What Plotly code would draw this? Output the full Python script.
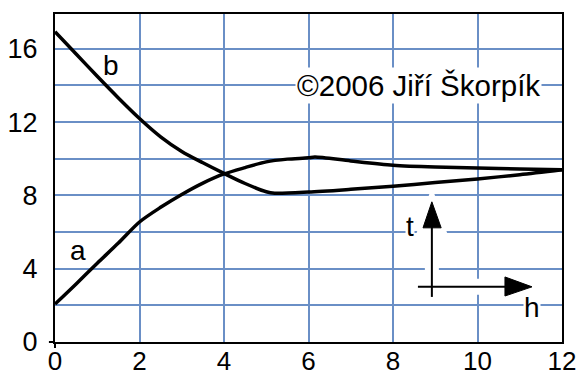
import plotly.graph_objects as go

# ---- data ----
a_x = [0, 0.5, 1, 1.5, 2, 2.5, 3, 3.5, 4, 4.5, 5, 5.5, 6, 6.15, 7, 8, 9, 10, 11, 12]
a_y = [2.07, 3.17, 4.3, 5.4, 6.55, 7.35, 8.05, 8.67, 9.17, 9.52, 9.83, 9.98, 10.05, 10.1, 9.88, 9.65, 9.55, 9.5, 9.44, 9.4]

b_x = [0, 0.5, 1, 1.5, 2, 2.5, 3, 3.5, 4, 4.5, 5, 5.2, 6, 7, 8, 9, 10, 11, 12]
b_y = [16.93, 15.72, 14.5, 13.32, 12.2, 11.2, 10.4, 9.78, 9.2, 8.65, 8.2, 8.12, 8.18, 8.33, 8.5, 8.7, 8.9, 9.13, 9.4]

x_tick_vals = [0, 2, 4, 6, 8, 10, 12]
x_tick_text = ["0", "2", "4", "6", "8", "10", "12"]
y_tick_vals = [0, 2, 4, 6, 8, 10, 12, 14, 16]
y_tick_text = ["0", "", "4", "", "8", "", "12", "", "16"]

FONT = "Liberation Sans, Arial, sans-serif"
GRID = "#6a8fc6"

fig = go.Figure()
fig.add_trace(go.Scatter(x=a_x, y=a_y, mode="lines", line=dict(color="black", width=3.5, shape="spline", smoothing=0.8), hoverinfo="skip"))
fig.add_trace(go.Scatter(x=b_x, y=b_y, mode="lines", line=dict(color="black", width=3.5, shape="spline", smoothing=0.8), hoverinfo="skip"))

shapes = []
# halo + arrow: vertical (t)
shapes.append(dict(type="line", x0=8.92, x1=8.92, y0=2.4, y1=6.3, line=dict(color="white", width=14), layer="above"))
shapes.append(dict(type="path", path="M 8.68 6.1 L 9.16 6.1 L 8.92 7.8 Z", fillcolor="white", line=dict(color="white", width=8), layer="above"))
# halo horizontal (h)
shapes.append(dict(type="line", x0=8.5, x1=10.8, y0=3.01, y1=3.01, line=dict(color="white", width=16), layer="above"))
shapes.append(dict(type="path", path="M 10.6 3.6 L 10.6 2.45 L 11.35 3.01 Z", fillcolor="white", line=dict(color="white", width=8), layer="above"))
# black arrows
shapes.append(dict(type="line", x0=8.92, x1=8.92, y0=2.46, y1=6.3, line=dict(color="black", width=2), layer="above"))
shapes.append(dict(type="path", path="M 8.71 6.23 L 9.14 6.23 L 8.92 7.65 Z", fillcolor="black", line=dict(color="black", width=1), layer="above"))
shapes.append(dict(type="line", x0=8.59, x1=10.7, y0=3.01, y1=3.01, line=dict(color="black", width=2), layer="above"))
shapes.append(dict(type="path", path="M 10.65 3.55 L 10.65 2.51 L 11.29 3.01 Z", fillcolor="black", line=dict(color="black", width=1), layer="above"))
# small ticks at origin
shapes.append(dict(type="line", xref="paper", yref="paper", x0=-0.012, x1=0, y0=0, y1=0, line=dict(color="black", width=2)))
shapes.append(dict(type="line", xref="paper", yref="paper", x0=0, x1=0, y0=-0.018, y1=0, line=dict(color="black", width=2)))

annotations = [
    dict(x=8.6, y=14, text="©2006 Jiří Škorpík", showarrow=False, bgcolor="white", borderpad=1,
         font=dict(family=FONT, size=29.5, color="black")),
    dict(x=1.33, y=15.1, text="b", showarrow=False, font=dict(family=FONT, size=28, color="black")),
    dict(x=0.55, y=5.0, text="a", showarrow=False, font=dict(family=FONT, size=28, color="black")),
    dict(x=8.4, y=6.3, text="t", showarrow=False, bgcolor="white", borderpad=0, font=dict(family=FONT, size=28, color="black")),
    dict(x=11.3, y=1.9, text="h", showarrow=False, bgcolor="white", borderpad=0, font=dict(family=FONT, size=28, color="black")),
]

fig.update_layout(
    width=579, height=376,
    margin=dict(l=55, r=17, t=14, b=34, pad=0),
    paper_bgcolor="white", plot_bgcolor="white",
    showlegend=False,
    shapes=shapes, annotations=annotations,
    font=dict(family=FONT, size=27, color="black"),
)
fig.update_xaxes(range=[0, 12], tickvals=x_tick_vals, ticktext=x_tick_text, showgrid=True, gridcolor=GRID, gridwidth=1.5,
                 showline=True, mirror=True, linecolor="black", linewidth=2, zeroline=False, ticks="",
                 ticklabelstandoff=-5, automargin=False, tickfont=dict(family=FONT, size=26, color="black"))
fig.update_yaxes(range=[0, 17.9], tickvals=y_tick_vals, ticktext=y_tick_text, showgrid=True, gridcolor=GRID, gridwidth=1.5,
                 showline=True, mirror=True, linecolor="black", linewidth=2, zeroline=False, ticks="",
                 ticklabelstandoff=10, automargin=False, tickfont=dict(family=FONT, size=27, color="black"))

fig.write_html("out.html", config={"displayModeBar": False},
               post_script="document.body.style.margin='0';document.body.style.overflow='hidden';")
